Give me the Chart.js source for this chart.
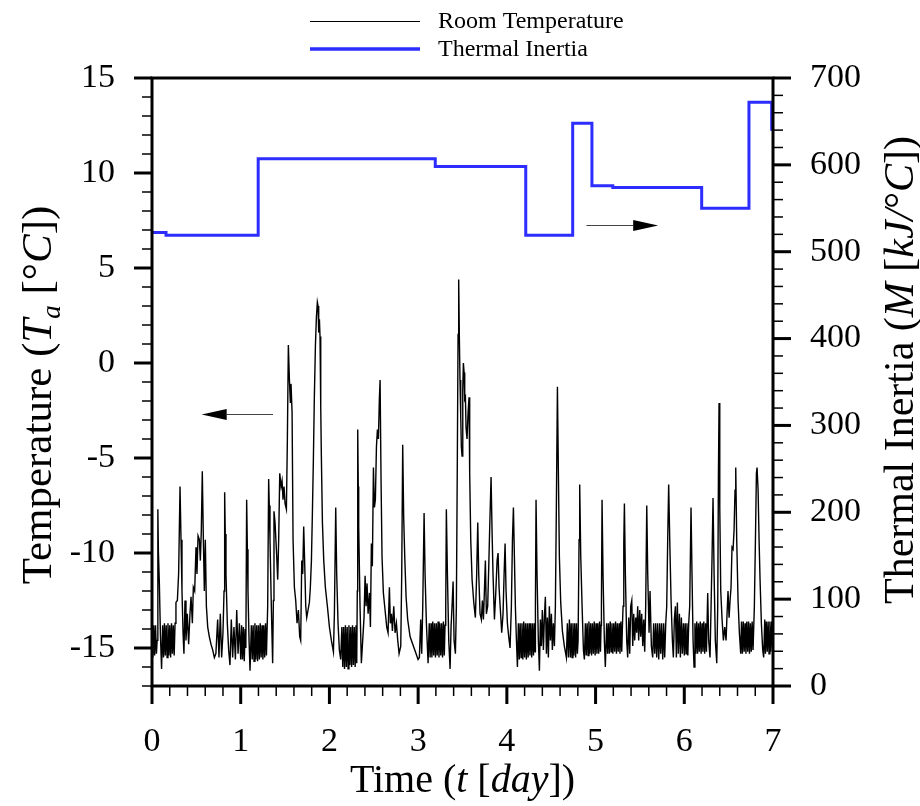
<!DOCTYPE html>
<html><head><meta charset="utf-8">
<script src="https://cdn.jsdelivr.net/npm/chart.js@4.4.1/dist/chart.umd.min.js"></script>
<style>html,body{margin:0;padding:0;background:#fff}#wrap{position:relative;width:920px;height:806px}</style>
</head><body><div id="wrap"><canvas id="c"></canvas></div>
<script>
// ---- Room temperature samples [day, °C] ----
const tempDay1 = [
[0.000,-13.9],[0.010,-15.5],[0.020,-13.8],[0.030,-15.4],[0.040,-13.8],[0.050,-15.3],
[0.058,-14.6],[0.066,-7.7],[0.072,-9.9],[0.083,-11.6],[0.095,-14.3],[0.108,-16.1],
[0.120,-13.8],[0.130,-15.5],[0.140,-13.7],[0.150,-15.4],[0.160,-13.8],[0.170,-15.5],[0.180,-13.7],[0.190,-15.4],[0.200,-13.8],[0.210,-15.5],[0.220,-13.7],[0.230,-15.3],[0.240,-13.8],[0.250,-15.4],[0.260,-13.7],
[0.270,-12.6],[0.286,-12.5],[0.300,-11.1],[0.316,-6.5],[0.327,-9.3],[0.338,-12.0],[0.350,-14.2],[0.360,-15.3],
[0.372,-12.5],[0.383,-14.6],[0.398,-13.2],[0.413,-14.8],[0.428,-13.2],[0.440,-12.3],[0.455,-13.7],[0.466,-11.8],[0.481,-12.0],[0.496,-9.7],[0.507,-11.1],[0.519,-9.1],[0.534,-9.3],[0.545,-10.4],[0.556,-8.8],[0.567,-5.7],[0.579,-9.3],[0.590,-12.0],[0.601,-9.3],[0.613,-12.8],[0.628,-13.9],[0.646,-14.4],[0.665,-14.8],[0.684,-15.1],[0.703,-15.5],[0.720,-15.3],[0.740,-13.5],[0.755,-15.5],[0.770,-13.2],[0.785,-15.5],[0.800,-14.2],[0.812,-12.0],[0.819,-6.8],
[0.826,-9.0],[0.834,-11.1],[0.849,-13.7],[0.864,-15.1],[0.879,-15.9],[0.894,-13.5],[0.909,-15.5],[0.924,-13.9],[0.940,-15.6],[0.955,-13.0],[0.970,-15.3],[0.985,-13.7],[1.000,-15.6]
];
const tempDay2 = [
[1.010,-13.8],[1.020,-15.6],[1.030,-13.9],[1.040,-15.7],[1.050,-14.0],[1.058,-15.0],[1.067,-7.2],[1.075,-9.8],[1.082,-12.0],[1.094,-14.6],[1.105,-16.2],
[1.120,-13.8],[1.130,-15.6],[1.140,-13.8],[1.150,-15.7],[1.160,-13.7],[1.170,-15.6],[1.180,-13.8],[1.190,-15.7],[1.200,-13.8],[1.210,-15.6],[1.220,-13.7],[1.230,-15.5],[1.240,-13.8],[1.250,-15.6],[1.260,-13.8],[1.270,-15.5],[1.280,-13.7],[1.290,-15.4],
[1.304,-12.8],[1.315,-6.1],[1.322,-7.5],[1.330,-9.3],[1.345,-12.8],[1.360,-15.8],[1.368,-12.5],[1.375,-7.8],[1.387,-8.4],[1.406,-10.2],[1.417,-11.4],[1.428,-9.3],[1.440,-5.8],[1.455,-6.5],[1.466,-6.2],[1.477,-7.2],[1.488,-6.5],[1.500,-7.4],[1.515,-7.7],[1.526,-4.0],[1.537,0.95],[1.549,-0.9],[1.560,-2.1],[1.567,-1.1],[1.579,-2.6],[1.590,-9.3],[1.605,-11.8],[1.620,-12.5],[1.635,-13.7],[1.650,-13.0],[1.665,-14.4],[1.676,-14.6],[1.688,-10.4],[1.699,-11.1],[1.710,-8.6],[1.722,-10.7],[1.733,-12.8],[1.744,-13.4],[1.759,-13.0],[1.774,-12.6],[1.785,-11.8],[1.797,-10.4],[1.808,-7.9],[1.819,-5.1],[1.830,-1.8],[1.842,0.9],[1.853,2.4],[1.864,3.2],[1.872,3.0],[1.879,1.6],[1.887,2.3],[1.894,1.4],[1.902,-2.3],[1.909,-4.9],[1.921,-8.4],[1.936,-10.4],[1.954,-11.8],[1.977,-12.8]
];
const tempDay3 = [
[2.000,-13.9],[2.022,-14.6],[2.045,-15.2],[2.056,-13.2],[2.071,-7.6],[2.082,-11.1],[2.097,-13.7],[2.112,-15.1],[2.127,-15.6],
[2.140,-13.9],[2.150,-16.0],[2.160,-13.9],[2.170,-16.1],[2.180,-13.8],[2.190,-16.0],[2.200,-13.9],[2.210,-16.1],[2.220,-13.8],[2.230,-15.9],[2.240,-13.9],[2.250,-16.0],[2.260,-13.8],[2.270,-15.9],[2.280,-13.9],[2.290,-16.0],[2.300,-13.8],[2.308,-15.8],
[2.314,-12.0],[2.319,-3.5],[2.325,-6.5],[2.330,-8.6],[2.345,-12.8],[2.360,-15.8],[2.375,-14.6],[2.390,-13.4],[2.402,-11.2],[2.413,-12.8],[2.424,-11.6],[2.436,-13.2],[2.451,-12.1],[2.462,-13.9],[2.473,-9.5],[2.484,-10.7],[2.496,-5.5],[2.507,-7.6],[2.518,-7.2],[2.530,-4.4],[2.541,-3.5],[2.552,-4.0],[2.563,-1.9],[2.571,-0.9],[2.582,-6.2],[2.593,-10.2],[2.608,-12.1],[2.627,-13.0],[2.646,-13.9],[2.661,-14.2],[2.676,-11.8],[2.687,-13.7],[2.699,-13.2],[2.710,-14.1],[2.725,-12.8],[2.740,-14.2],[2.755,-13.7],[2.770,-14.6],[2.785,-15.3],[2.804,-14.9],[2.815,-11.1],[2.826,-4.3],[2.837,-8.1],[2.849,-10.2],[2.864,-12.3],[2.882,-13.5],[2.909,-14.4],[2.939,-14.8],[2.969,-15.2],[2.999,-15.6]
];
const tempDay4 = [
[3.014,-15.5],[3.029,-13.5],[3.040,-15.3],[3.052,-12.8],[3.067,-7.9],[3.078,-11.1],[3.093,-13.7],[3.112,-15.8],
[3.125,-13.7],[3.135,-15.5],[3.145,-13.7],[3.155,-15.5],[3.165,-13.6],[3.175,-15.4],[3.185,-13.7],[3.195,-15.5],[3.205,-13.7],[3.215,-15.4],[3.225,-13.6],[3.235,-15.5],[3.245,-13.7],[3.255,-15.4],[3.265,-13.7],[3.275,-15.5],[3.285,-13.6],[3.295,-15.4],[3.303,-13.8],
[3.311,-12.8],[3.318,-7.7],[3.330,-11.1],[3.345,-14.6],[3.360,-16.1],[3.371,-13.9],[3.382,-12.8],[3.394,-11.5],[3.405,-14.6],[3.420,-15.3],[3.431,-12.8],[3.442,-4.9],[3.450,1.5],[3.457,4.4],[3.465,1.2],[3.472,-0.9],[3.480,-2.8],[3.487,-4.4],[3.495,-4.9],[3.503,-1.4],[3.510,0.0],[3.518,-0.5],[3.525,-1.9],[3.533,-1.8],[3.540,-3.4],[3.551,-4.0],[3.563,-2.6],[3.574,-1.8],[3.581,-5.8],[3.593,-9.3],[3.608,-11.4],[3.627,-12.6],[3.645,-13.4],[3.660,-11.1],[3.672,-8.4],[3.683,-11.1],[3.698,-13.2],[3.713,-13.5],[3.724,-12.5],[3.736,-13.5],[3.747,-12.0],[3.758,-10.4],[3.769,-13.2],[3.784,-12.8],[3.796,-10.7],[3.807,-8.6],[3.822,-6.0],[3.833,-8.8],[3.844,-11.1],[3.860,-13.5],[3.875,-12.1],[3.890,-10.4],[3.901,-10.0],[3.912,-11.8],[3.927,-13.0],[3.942,-14.2],[3.957,-13.2],[3.969,-11.1],[3.980,-9.5],[3.991,-12.0]
];
const tempDay5 = [
[4.006,-13.7],[4.021,-14.4],[4.036,-15.0],[4.051,-12.8],[4.063,-9.3],[4.074,-7.6],[4.085,-10.2],[4.096,-12.8],[4.108,-14.6],[4.119,-16.0],
[4.130,-13.7],[4.140,-15.6],[4.150,-13.7],[4.160,-15.5],[4.170,-13.7],[4.180,-15.6],[4.190,-13.6],[4.200,-15.5],[4.210,-13.7],[4.220,-15.6],[4.230,-13.7],[4.240,-15.5],[4.250,-13.7],[4.260,-15.4],[4.270,-13.7],[4.280,-15.5],[4.290,-13.7],[4.300,-15.4],[4.310,-13.7],[4.318,-15.2],
[4.322,-12.8],[4.329,-7.2],[4.340,-11.1],[4.355,-14.6],[4.367,-16.2],[4.378,-13.5],[4.389,-14.9],[4.400,-13.0],[4.412,-15.1],[4.423,-13.4],[4.434,-12.3],[4.446,-15.3],[4.457,-13.4],[4.468,-15.5],[4.479,-12.8],[4.491,-14.6],[4.502,-13.2],[4.513,-15.1],[4.524,-13.7],[4.536,-14.9],[4.547,-12.8],[4.558,-7.6],[4.570,-1.25],[4.581,-5.8],[4.592,-10.2],[4.607,-12.6],[4.626,-14.1],[4.648,-14.9],[4.671,-15.5],[4.682,-13.7],[4.694,-15.5],[4.705,-13.5],[4.716,-15.5],
[4.725,-13.7],[4.735,-15.5],[4.745,-13.7],[4.755,-15.4],[4.765,-13.7],[4.775,-15.5],[4.785,-13.7],[4.795,-15.3],
[4.803,-14.6],[4.814,-9.3],[4.821,-6.4],[4.833,-10.2],[4.848,-12.8],[4.863,-15.1],[4.874,-15.6],
[4.885,-13.7],[4.895,-15.4],[4.905,-13.7],[4.915,-15.4],[4.925,-13.6],[4.935,-15.3],[4.945,-13.7],[4.955,-15.4],[4.965,-13.7],[4.975,-15.3],[4.985,-13.6],[4.995,-15.4]
];
const tempDay6 = [
[5.005,-13.7],[5.015,-15.3],[5.025,-13.7],[5.035,-15.3],[5.045,-13.6],[5.055,-15.2],[5.062,-13.8],[5.066,-12.8],[5.073,-7.2],[5.084,-11.1],[5.099,-14.6],[5.110,-16.0],
[5.125,-13.7],[5.135,-15.3],[5.145,-13.7],[5.155,-15.3],[5.165,-13.6],[5.175,-15.2],[5.185,-13.7],[5.195,-15.3],[5.205,-13.7],[5.215,-15.2],[5.225,-13.6],[5.235,-15.3],[5.245,-13.7],[5.255,-15.2],[5.265,-13.7],[5.275,-15.3],[5.285,-13.6],[5.295,-15.2],[5.303,-13.8],
[5.310,-12.8],[5.318,-9.5],[5.325,-7.4],[5.336,-11.1],[5.351,-14.6],[5.362,-15.5],[5.374,-13.4],[5.385,-15.3],[5.396,-12.8],[5.408,-12.5],[5.419,-14.9],[5.430,-13.2],[5.441,-14.6],[5.453,-13.4],[5.464,-14.2],[5.475,-12.8],[5.486,-14.6],[5.498,-13.0],[5.509,-14.4],[5.520,-13.2],[5.532,-14.9],[5.543,-13.5],[5.554,-15.2],[5.565,-12.8],[5.577,-7.5],[5.588,-11.1],[5.603,-14.2],[5.614,-12.0],[5.629,-14.9],[5.644,-15.5],[5.655,-13.7],[5.667,-15.3],[5.678,-13.7],[5.689,-15.5],[5.700,-13.7],[5.712,-15.6],[5.723,-13.7],[5.734,-15.3],[5.745,-13.7],[5.757,-15.6],[5.768,-13.7],[5.779,-15.5],[5.791,-13.7],[5.802,-12.8],[5.813,-9.3],[5.824,-6.4],[5.836,-9.3],[5.851,-12.5],[5.866,-14.6],[5.877,-15.5],[5.888,-13.5],[5.900,-12.8],[5.911,-15.5],[5.922,-12.6],[5.933,-15.3],[5.945,-13.2],[5.956,-15.5],[5.967,-13.4],[5.978,-15.3],[5.990,-13.7]
];
const tempDay7 = [
[6.000,-15.4],[6.010,-13.7],[6.020,-15.3],[6.030,-13.7],[6.040,-15.4],[6.050,-13.7],[6.061,-12.8],[6.076,-7.6],[6.087,-11.1],[6.099,-14.6],[6.110,-16.0],
[6.120,-13.7],[6.130,-15.3],[6.140,-13.6],[6.150,-15.3],[6.160,-13.7],[6.170,-15.2],[6.180,-13.6],[6.190,-15.3],[6.200,-13.7],[6.210,-15.2],[6.220,-13.6],[6.230,-15.3],[6.240,-13.7],[6.250,-15.2],
[6.264,-12.1],[6.275,-14.6],[6.290,-15.5],[6.302,-12.8],[6.313,-10.2],[6.324,-7.1],[6.336,-11.1],[6.350,-14.6],[6.366,-15.8],[6.377,-12.8],[6.385,-5.8],[6.392,-2.1],[6.400,-7.6],[6.411,-12.0],[6.426,-13.5],[6.441,-14.6],[6.456,-13.9],[6.471,-14.6],[6.482,-13.2],[6.493,-12.0],[6.505,-13.4],[6.516,-12.5],[6.527,-11.8],[6.538,-9.7],[6.550,-9.8],[6.561,-8.8],[6.572,-6.7],[6.580,-5.5],[6.591,-9.3],[6.606,-12.5],[6.621,-14.2],[6.636,-15.3],
[6.645,-13.6],[6.655,-15.3],[6.665,-13.6],[6.675,-15.2],[6.685,-13.7],[6.695,-15.3],[6.705,-13.6],[6.715,-15.2],[6.725,-13.6],[6.735,-15.3],[6.745,-13.7],[6.755,-15.2],[6.765,-13.6],[6.775,-15.1],
[6.790,-12.8],[6.802,-9.3],[6.813,-5.8],[6.820,-5.5],[6.832,-6.7],[6.843,-9.3],[6.854,-11.4],[6.869,-13.7],[6.884,-15.1],[6.895,-15.5],[6.907,-13.5],
[6.915,-15.3],[6.925,-13.6],[6.935,-15.2],[6.945,-13.6],[6.955,-15.3],[6.965,-13.6],[6.975,-15.2],[6.985,-13.6],[6.995,-15.0],[7.000,-13.8]
];

// ---- Thermal inertia (step changes) ----
const inertiaTimes  = [0, 0.158, 1.197, 3.193, 4.213, 4.742, 4.959, 5.194, 6.196, 6.729, 6.985, 7.0];
const inertiaValues = [522, 519, 607, 598, 519, 648, 576, 574, 550, 672, 641, 641];

// ---- Axes ----
const xTickValues = [0, 1, 2, 3, 4, 5, 6, 7];
const yLeftTickValues = [-15, -10, -5, 0, 5, 10, 15];
const yRightTickValues = [0, 100, 200, 300, 400, 500, 600, 700];
const seriesNames = ['Room Temperature', 'Thermal Inertia'];

// arrow annotations (data coordinates)
const leftArrow = {axis: 'y', from: 1.364, to: 0.56, value: -2.7};
const rightArrow = {axis: 'y2', from: 4.897, to: 5.706, value: 531};

const SERIF = '"Liberation Serif", "Times New Roman", serif';
const BLUE = 'rgb(45,45,255)';

const roomTemp = [].concat(tempDay1, tempDay2, tempDay3, tempDay4, tempDay5, tempDay6, tempDay7)
  .map(p => ({x: p[0], y: p[1]}));
const inertia = inertiaTimes.map((t, i) => ({x: t, y: inertiaValues[i]}));

function drawMixed(ctx, segs, size) {
  const fontOf = s => (s.italic ? 'italic ' : '') + Math.round(size * (s.sub ? 0.62 : 1)) + 'px ' + SERIF;
  let total = 0;
  segs.forEach(s => { ctx.font = fontOf(s); s.w = ctx.measureText(s.text).width; total += s.w; });
  let x = -total / 2;
  segs.forEach(s => {
    ctx.font = fontOf(s);
    ctx.fillText(s.text, x, s.sub ? size * 0.22 : 0);
    x += s.w;
  });
}

const decorPlugin = {
  id: 'decor',
  afterDraw(chart) {
    const {ctx, chartArea: a, scales} = chart;
    ctx.save();
    ctx.strokeStyle = '#000';
    ctx.fillStyle = '#000';
    const tick = (x1, y1, x2, y2, w) => { ctx.lineWidth = w; ctx.beginPath(); ctx.moveTo(x1, y1); ctx.lineTo(x2, y2); ctx.stroke(); };
    for (let i = 0; i <= 35; i++) {
      const v = i * 0.2, px = scales.x.getPixelForValue(v);
      const major = i % 5 === 0;
      tick(px, a.bottom, px, a.bottom + (major ? 18 : 10), major ? 3 : 1.5);
    }
    for (let v = -17; v <= 15; v++) {
      const py = scales.y.getPixelForValue(v);
      const major = v % 5 === 0;
      tick(a.left, py, a.left - (major ? 18 : 10), py, major ? 3 : 1.5);
    }
    for (let v = 0; v <= 700; v += 20) {
      const py = scales.y2.getPixelForValue(v);
      const major = v % 100 === 0;
      tick(a.right, py, a.right + (major ? 18 : 10), py, major ? 3 : 1.5);
    }
    // frame
    ctx.lineWidth = 3;
    ctx.strokeRect(a.left, a.top, a.right - a.left, a.bottom - a.top);

    // arrows
    [leftArrow, rightArrow].forEach(ar => {
      const y = Math.round(scales[ar.axis].getPixelForValue(ar.value)) + 0.5;
      const x0 = scales.x.getPixelForValue(ar.from), x1 = scales.x.getPixelForValue(ar.to);
      const dir = Math.sign(x1 - x0);
      const headLen = 25, headH = 5.5;
      ctx.strokeStyle = '#444'; ctx.lineWidth = 1;
      ctx.beginPath(); ctx.moveTo(x0, y); ctx.lineTo(x1 - dir * headLen, y); ctx.stroke();
      ctx.fillStyle = '#000';
      ctx.beginPath(); ctx.moveTo(x1, y); ctx.lineTo(x1 - dir * headLen, y - headH); ctx.lineTo(x1 - dir * headLen, y + headH); ctx.closePath(); ctx.fill();
    });

    // legend
    ctx.fillStyle = '#000';
    ctx.font = '24px ' + SERIF;
    ctx.textBaseline = 'middle';
    ctx.textAlign = 'left';
    ctx.strokeStyle = '#000'; ctx.lineWidth = 1;
    ctx.beginPath(); ctx.moveTo(310, 21.5); ctx.lineTo(420, 21.5); ctx.stroke();
    ctx.fillText(seriesNames[0], 438, 22);
    ctx.strokeStyle = BLUE; ctx.lineWidth = 3.5;
    ctx.beginPath(); ctx.moveTo(310, 49); ctx.lineTo(420, 49); ctx.stroke();
    ctx.fillText(seriesNames[1], 438, 50);

    // axis titles
    ctx.textBaseline = 'alphabetic';
    ctx.fillStyle = '#000';
    ctx.save();
    ctx.translate((a.left + a.right) / 2, 792);
    drawMixed(ctx, [{text: 'Time ('}, {text: 't', italic: true}, {text: ' ['}, {text: 'day', italic: true}, {text: '])'}], 40);
    ctx.restore();
    ctx.save();
    ctx.translate(51, 395);
    ctx.rotate(-Math.PI / 2);
    drawMixed(ctx, [{text: 'Temperature ('}, {text: 'T', italic: true}, {text: 'a', italic: true, sub: true}, {text: ' [°'}, {text: 'C', italic: true}, {text: '])'}], 43);
    ctx.restore();
    ctx.save();
    ctx.translate(913, 370);
    ctx.rotate(-Math.PI / 2);
    drawMixed(ctx, [{text: 'Thermal Inertia ('}, {text: 'M', italic: true}, {text: ' ['}, {text: 'kJ/', italic: true}, {text: '°'}, {text: 'C', italic: true}, {text: '])'}], 42);
    ctx.restore();
    ctx.restore();
  }
};

const tickFont = {family: SERIF, size: 34};
new Chart(document.getElementById('c'), {
  type: 'line',
  data: {
    datasets: [
      {label: seriesNames[0], data: roomTemp, yAxisID: 'y', borderColor: '#000', borderWidth: 1.4, pointRadius: 0, tension: 0, fill: false},
      {label: seriesNames[1], data: inertia, yAxisID: 'y2', borderColor: BLUE, borderWidth: 3, pointRadius: 0, stepped: true, fill: false}
    ]
  },
  options: {
    responsive: true,
    maintainAspectRatio: false,
    animation: false,
    events: [],
    layout: {padding: {top: 78, left: 0, right: 0, bottom: 0}},
    plugins: {legend: {display: false}, tooltip: {enabled: false}, title: {display: false}},
    scales: {
      x: {
        type: 'linear', position: 'bottom', min: 0, max: 7,
        grid: {display: false, drawTicks: false}, border: {display: false},
        ticks: {font: tickFont, color: '#000', padding: 36, maxRotation: 0},
        afterBuildTicks: s => { s.ticks = xTickValues.map(v => ({value: v})); },
        afterFit: s => { s.height = 120; }
      },
      y: {
        type: 'linear', position: 'left', min: -17, max: 15,
        grid: {display: false, drawTicks: false}, border: {display: false},
        ticks: {font: tickFont, color: '#000', padding: 37},
        afterBuildTicks: s => { s.ticks = yLeftTickValues.map(v => ({value: v})); },
        afterFit: s => { s.width = 152; }
      },
      y2: {
        type: 'linear', position: 'right', min: 0, max: 700,
        grid: {display: false, drawTicks: false}, border: {display: false},
        ticks: {font: tickFont, color: '#000', padding: 37},
        afterBuildTicks: s => { s.ticks = yRightTickValues.map(v => ({value: v})); },
        afterFit: s => { s.width = 147; }
      }
    }
  },
  plugins: [decorPlugin]
});
</script>
</body></html>
